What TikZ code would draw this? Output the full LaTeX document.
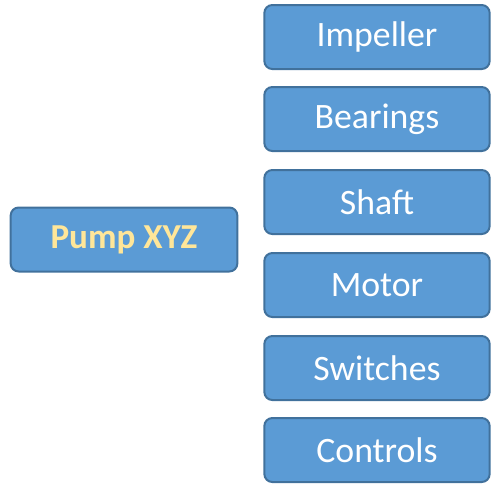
\documentclass[tikz,border=0pt]{standalone}
\usepackage{fontspec}
\setmainfont{Carlito}
\usepackage{tikz}
\usetikzlibrary{calc}

\definecolor{boxfill}{RGB}{91,155,213}
\definecolor{boxline}{RGB}{65,113,156}
\definecolor{pumptext}{RGB}{255,230,153}

\tikzset{
    partbox/.style={draw=boxline, fill=boxfill, line width=1.5pt, rounded corners=6pt,
        minimum width=169pt, minimum height=48pt, inner sep=0pt,
        text=white, font=\fontsize{26.8}{30}\selectfont},
    pumpbox/.style={partbox, minimum width=170pt, text=pumptext,
        font=\fontsize{26.3}{30}\selectfont\bfseries}
}

\begin{document}
\begin{tikzpicture}[x=0.75pt, y=-0.75pt]

\useasboundingbox (0,0) rectangle (491,486);

\node[pumpbox] (pump) at (124,239.5) {Pump XYZ};

\foreach \name/\txt/\y in {imp/Impeller/37, bear/Bearings/119, shaft/Shaft/202,
                           motor/Motor/285, switch/Switches/368, ctrl/Controls/450} {
    \node[partbox] (\name) at (377,\y) {\txt};
};

\end{tikzpicture}
\end{document}
